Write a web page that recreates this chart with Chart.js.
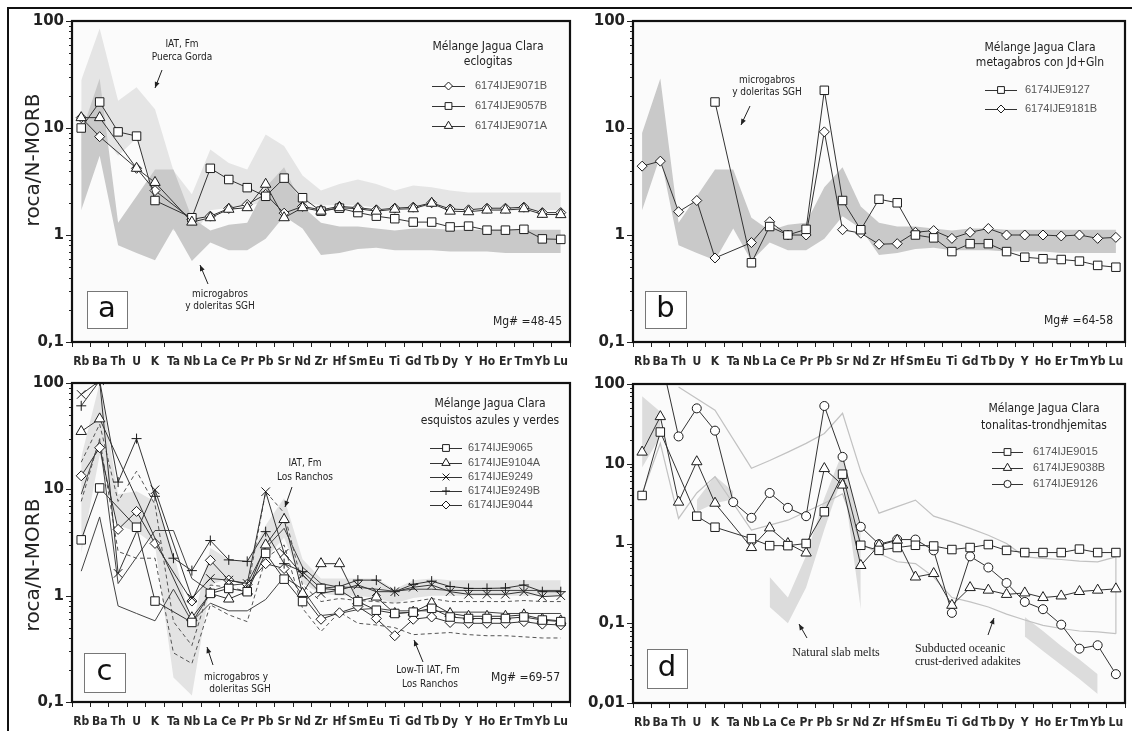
<!DOCTYPE html>
<html lang="es"><head><meta charset="utf-8"><title>Diagramas multielementales normalizados a N-MORB</title>
<script src="https://cdn.jsdelivr.net/npm/chart.js@4.4.1/dist/chart.umd.min.js"></script>
<style>
html,body{margin:0;padding:0;background:#fff}
body{position:relative;width:1132px;height:731px;overflow:hidden}
canvas{position:absolute;display:block}
.fr{position:absolute;background:#111}
</style></head><body>
<canvas id="pa" width="577" height="375" style="left:0;top:0"></canvas>
<canvas id="pb" width="555" height="375" style="left:577px;top:0"></canvas>
<canvas id="pc" width="577" height="356" style="left:0;top:375px"></canvas>
<canvas id="pd" width="555" height="356" style="left:577px;top:375px"></canvas>
<div class="fr" style="left:7px;top:7px;width:1125px;height:2px"></div>
<div class="fr" style="left:7px;top:7px;width:2px;height:724px"></div>
<script>
// ---------- categories & tick labels ----------
const CATS = ['Rb','Ba','Th','U','K','Ta','Nb','La','Ce','Pr','Pb','Sr','Nd','Zr','Hf','Sm','Eu','Ti','Gd','Tb','Dy','Y','Ho','Er','Tm','Yb','Lu'];
const DECADE_LABELS = {'-2':'0,01','-1':'0,1','0':'1','1':'10','2':'100'};
const Y_TITLE = 'roca/N-MORB';

// ---------- panel a: eclogitas ----------
const a_9071B = [12.5, 8.3, null, 4.2, 2.6, null, 1.4, 1.5, 1.77, 1.93, 2.4, 1.6, 1.85, 1.72, 1.85, 1.8, 1.72, 1.78, 1.82, 2.0, 1.75, 1.72, 1.78, 1.78, 1.82, 1.62, 1.62];
const a_9057B = [10, 17.5, 9.2, 8.4, 2.1, null, 1.45, 4.2, 3.3, 2.77, 2.3, 3.4, 2.23, 1.67, 1.78, 1.62, 1.5, 1.42, 1.32, 1.32, 1.19, 1.21, 1.11, 1.11, 1.13, 0.92, 0.91];
const a_9071A = [12.5, 12.5, null, 4.2, 3.1, null, 1.32, 1.45, 1.74, 1.8, 2.98, 1.45, 1.8, 1.67, 1.8, 1.76, 1.67, 1.74, 1.76, 1.98, 1.67, 1.65, 1.71, 1.71, 1.76, 1.56, 1.55];
const iatPG_hi = [28, 85, 18, 24, 15, 4.0, 2.4, 6.3, 4.7, 4.1, 8.7, 6.8, 3.6, 2.6, 3.0, 3.3, 3.0, 2.6, 2.9, 2.8, 2.6, 2.5, 2.5, 2.5, 2.5, 2.5, 2.5];
const iatPG_lo = [4.0, 9.0, 5.5, 8.0, 2.5, 1.1, 0.95, 1.7, 1.8, 1.9, 2.0, 1.7, 2.0, 1.9, 1.9, 1.9, 1.8, 1.8, 1.8, 1.85, 1.75, 1.75, 1.7, 1.7, 1.7, 1.7, 1.7];
// microgabros y doleritas SGH (panels a, b, c)
const sgh_hi = [9, 29, 1.3, 2.3, 4.1, 4.1, 1.45, 1.1, 1.25, 1.3, 2.8, 4.3, 1.85, 1.3, 1.2, 1.2, 1.15, 1.1, 1.15, 1.15, 1.12, 1.12, 1.12, 1.12, 1.12, 1.12, 1.12];
const sgh_lo = [1.7, 5.5, 0.8, 0.68, 0.58, 1.15, 0.57, 0.85, 0.72, 0.72, 0.92, 1.5, 1.15, 0.65, 0.68, 0.74, 0.76, 0.72, 0.72, 0.72, 0.7, 0.7, 0.7, 0.68, 0.68, 0.68, 0.68];

// ---------- panel b: metagabros con Jd+Gln ----------
const b_9127  = [null, null, null, null, 17.5, null, 0.55, 1.2, 1.0, 1.13, 22.5, 2.1, 1.12, 2.16, 2.0, 1.0, 0.94, 0.70, 0.83, 0.83, 0.70, 0.62, 0.60, 0.59, 0.57, 0.52, 0.50];
const b_9181B = [4.4, 4.9, 1.65, 2.1, 0.61, null, 0.85, 1.33, 1.0, 1.0, 9.2, 1.12, 1.04, 0.82, 0.83, 1.06, 1.1, 0.93, 1.06, 1.15, 1.0, 1.0, 1.0, 0.98, 1.0, 0.93, 0.95];

// ---------- panel c: esquistos azules y verdes ----------
const c_9065  = [3.35, 10.3, null, 4.4, 0.89, null, 0.56, 1.05, 1.17, 1.09, 2.5, 1.43, 0.88, 1.17, 1.13, 0.88, 0.73, 0.68, 0.70, 0.76, 0.63, 0.61, 0.61, 0.61, 0.63, 0.59, 0.57];
const c_9104A = [35, 46, null, null, null, null, 0.62, 1.05, 0.93, 1.1, 3.0, 5.2, 1.05, 2.0, 2.0, 0.89, 0.97, 0.68, 0.7, 0.85, 0.68, 0.64, 0.64, 0.64, 0.66, 0.6, 0.58];
const c_9249  = [78, 105, 1.62, null, 9.9, null, 0.95, 1.45, 1.4, 1.3, 9.5, 2.5, 1.57, 1.05, 1.13, 1.26, 1.09, 1.09, 1.2, 1.26, 1.09, 1.03, 1.03, 1.03, 1.09, 0.98, 1.0];
const c_9249B = [61, 105, 11.7, 30, 8.6, 2.25, 1.72, 3.3, 2.17, 2.1, 4.0, 2.0, 1.68, 1.17, 1.22, 1.4, 1.4, 1.09, 1.28, 1.37, 1.22, 1.17, 1.17, 1.18, 1.26, 1.09, 1.09];
const c_9044  = [13.4, 24.6, 4.2, 6.2, 3.1, null, 0.89, 2.15, 1.4, 1.28, 2.0, 1.8, 1.0, 0.6, 0.69, 0.79, 0.61, 0.42, 0.6, 0.63, 0.56, 0.55, 0.55, 0.55, 0.57, 0.54, 0.53];
const lowTi_hi = [18, 41, 7.7, 14.8, 7.2, 0.57, 0.34, 1.26, 1.2, 1.1, 9.5, 6.0, 1.26, 0.88, 0.94, 0.9, 0.88, 0.85, 0.88, 0.94, 0.88, 0.88, 0.88, 0.88, 0.9, 0.88, 0.88];
const lowTi_lo = [7.7, 30, 2.6, 2.25, 2.25, 0.29, 0.23, 0.82, 0.66, 0.57, 2.25, 3.0, 0.76, 0.46, 0.7, 0.55, 0.53, 0.5, 0.43, 0.44, 0.45, 0.43, 0.42, 0.42, 0.41, 0.4, 0.4];
const iatLR_hi = [20, 100, 9, 9.6, 7.7, 2.6, 0.5, 2.8, 2.2, 2.1, 4.6, 8.3, 2.2, 1.45, 1.45, 1.45, 1.45, 1.15, 1.4, 1.45, 1.4, 1.4, 1.4, 1.4, 1.4, 1.4, 1.4];
const iatLR_lo = [2.5, 21, 4.6, 4.0, 3.0, 0.17, 0.115, 1.26, 1.46, 1.26, 2.25, 3.5, 1.3, 1.05, 1.0, 1.0, 0.95, 0.85, 0.95, 1.0, 1.0, 1.0, 1.0, 1.0, 1.0, 1.0, 1.0];

// ---------- panel d: tonalitas-trondhjemitas ----------
const d_9015  = [4.0, 25, null, 2.2, 1.6, null, 1.15, 0.94, 0.94, 1.0, 2.5, 7.4, 0.95, 0.82, 0.89, 0.95, 0.93, 0.84, 0.89, 0.97, 0.82, 0.77, 0.77, 0.77, 0.85, 0.77, 0.77];
const d_9038B = [14, 39, 3.3, 10.6, 3.2, null, 0.89, 1.57, 1.0, 0.76, 8.7, 5.4, 0.53, 0.95, 1.1, 0.38, 0.42, 0.168, 0.28, 0.26, 0.23, 0.24, 0.21, 0.22, 0.25, 0.26, 0.27];
const d_9126  = [null, 230, 22, 49.5, 26, 3.3, 2.1, 4.3, 2.8, 2.2, 53, 12.2, 1.62, 0.98, 1.12, 1.12, 0.82, 0.135, 0.69, 0.5, 0.32, 0.185, 0.15, 0.096, 0.048, 0.053, 0.023];
const adak_hi = [null, null, 92, null, 47, null, 8.8, 11, 14, 18, 24, 43, 8, 2.4, 2.9, 3.5, 2.2, 1.87, 1.55, 1.27, 1.0, 0.68, 0.65, 0.63, 0.6, 0.59, 0.68];
const adak_lo = [4.2, 18, 2.06, 4.3, 6.9, null, 1.47, 1.7, 1.96, 2.5, 3.2, 4.2, 1.0, 0.75, 0.59, 0.56, 0.38, 0.21, 0.185, 0.16, 0.13, 0.11, 0.094, 0.086, 0.08, 0.078, 0.074];
const adak_closeLu = [{x:'Lu', y:0.074}, {x:'Lu', y:0.68}];
const slab_hi = [70, 45, null, 3.5, 7.0, 4.5, null, 0.38, 0.21, 0.7, 3.7, 14, 1.4, null, null, null, null, null, null, null, null, 0.12, 0.08, 0.052, 0.035, 0.023, null];
const slab_lo = [9, 22, null, 2.5, 3.2, 3.6, null, 0.16, 0.1, 0.28, 1.5, 7, 0.15, null, null, null, null, null, null, null, null, 0.068, 0.045, 0.03, 0.02, 0.013, null];

// ---------- styling helpers ----------
const FC = '"DejaVu Sans Condensed","DejaVu Sans",sans-serif';
const F_ANN = '10px ' + FC;
const F_MG = '12px ' + FC;
const F_LEGT = '12px ' + FC;
const F_LEGE = '11px "Liberation Sans",Arial,sans-serif';
const F_SERIF = '12px "Liberation Serif","Times New Roman",serif';
const F_YT = '20px "DejaVu Sans",sans-serif';
const F_LET = '29px "DejaVu Sans",sans-serif';

function sample(label, data, style, r, order, breaks) {
  const br = breaks || [];
  return {
    label, data, order, pointStyle: style, pointRadius: r, pointHoverRadius: r,
    borderColor: '#333', borderWidth: 1, pointBackgroundColor: '#fff',
    pointBorderColor: '#1c1c1c', pointBorderWidth: 1, fill: false, spanGaps: true, tension: 0,
    inKey: true,
    segment: { borderColor: c => br.some(b => b[0] === c.p0DataIndex && b[1] === c.p1DataIndex) ? 'rgba(0,0,0,0)' : undefined }
  };
}
function band(label, hi, lo, color, order) {
  return [
    { label: label + ' (sup)', data: hi, order, fill: '+1', backgroundColor: color, borderColor: 'rgba(0,0,0,0)', borderWidth: 0, pointRadius: 0, spanGaps: false, tension: 0 },
    { label: label + ' (inf)', data: lo, order, fill: false, borderColor: 'rgba(0,0,0,0)', borderWidth: 0, pointRadius: 0, spanGaps: false, tension: 0 }
  ];
}
function plain(label, data, color, width, order, dash) {
  return { label, data, order, borderColor: color, borderWidth: width, borderDash: dash || [], pointRadius: 0, fill: false, spanGaps: true, tension: 0 };
}

function drawMarker(ctx, style, x, y, r) {
  ctx.beginPath();
  if (style === 'rect') { const s = Math.SQRT1_2 * r; ctx.rect(x - s, y - s, 2 * s, 2 * s); }
  else if (style === 'rectRot') { ctx.moveTo(x - r, y); ctx.lineTo(x, y - r); ctx.lineTo(x + r, y); ctx.lineTo(x, y + r); ctx.closePath(); }
  else if (style === 'triangle') { const s = Math.sin(2 * Math.PI / 3) * r; ctx.moveTo(x, y - r); ctx.lineTo(x + s, y + r / 2); ctx.lineTo(x - s, y + r / 2); ctx.closePath(); }
  else if (style === 'circle') { ctx.arc(x, y, r, 0, Math.PI * 2); }
  else if (style === 'crossRot') { const s = Math.SQRT1_2 * r; ctx.moveTo(x - s, y - s); ctx.lineTo(x + s, y + s); ctx.moveTo(x + s, y - s); ctx.lineTo(x - s, y + s); }
  else if (style === 'cross') { ctx.moveTo(x - r, y); ctx.lineTo(x + r, y); ctx.moveTo(x, y - r); ctx.lineTo(x, y + r); }
  if (style !== 'crossRot' && style !== 'cross') { ctx.fillStyle = '#fff'; ctx.fill(); }
  ctx.strokeStyle = '#1c1c1c'; ctx.lineWidth = 1; ctx.stroke();
}
function txt(ctx, s, x, y, font, color, align, rot) {
  ctx.save(); ctx.font = font; ctx.fillStyle = color; ctx.textAlign = align || 'center'; ctx.textBaseline = 'middle';
  if (rot) { ctx.translate(x, y); ctx.rotate(-Math.PI / 2); ctx.fillText(s, 0, 0); } else { ctx.fillText(s, x, y); }
  ctx.restore();
}
function arrow(ctx, x1, y1, x2, y2) {
  ctx.save(); ctx.strokeStyle = '#222'; ctx.fillStyle = '#222'; ctx.lineWidth = 1;
  ctx.beginPath(); ctx.moveTo(x1, y1); ctx.lineTo(x2, y2); ctx.stroke();
  const a = Math.atan2(y2 - y1, x2 - x1), L = 6, W = 2.5;
  ctx.beginPath(); ctx.moveTo(x2, y2);
  ctx.lineTo(x2 - L * Math.cos(a) + W * Math.sin(a), y2 - L * Math.sin(a) - W * Math.cos(a));
  ctx.lineTo(x2 - L * Math.cos(a) - W * Math.sin(a), y2 - L * Math.sin(a) + W * Math.cos(a));
  ctx.closePath(); ctx.fill(); ctx.restore();
}

// ---------- annotations (page coordinates) ----------
const DECO = {
  pa: { origin: [0, 0], ytitle: [34, 160],
    texts: [['IAT, Fm', 182, 44], ['Puerca Gorda', 182, 57], ['microgabros', 220, 294], ['y doleritas SGH', 220, 306]],
    arrows: [[162, 70, 155, 88], [208, 284, 200, 265]],
    mg: ['Mg# =48-45', 562, 322], box: [87, 291, 40, 37, 'a'],
    legend: { cx: 488, ty: [47, 62], title: ['Mélange Jagua Clara', 'eclogitas'], lx0: 432, lx1: 465, tx: 475, ys: [86, 106, 126] } },
  pb: { origin: [577, 0],
    texts: [['microgabros', 767, 80], ['y doleritas SGH', 767, 92]],
    arrows: [[750, 106, 741, 125]],
    mg: ['Mg# =64-58', 1113, 321], box: [645, 291, 41, 37, 'b'],
    legend: { cx: 1040, ty: [48, 63], title: ['Mélange Jagua Clara', 'metagabros con Jd+Gln'], lx0: 985, lx1: 1017, tx: 1025, ys: [90, 109] } },
  pc: { origin: [0, 375], ytitle: [34, 565],
    texts: [['IAT, Fm', 305, 463], ['Los Ranchos', 305, 477], ['Low-Ti IAT, Fm', 428, 670], ['Los Ranchos', 430, 684], ['microgabros y', 236, 677], ['doleritas SGH', 240, 689]],
    arrows: [[292, 487, 285, 507], [423, 662, 414, 640], [213, 665, 207, 647]],
    mg: ['Mg# =69-57', 560, 678], box: [84, 653, 41, 39, 'c'],
    legend: { cx: 490, ty: [404, 421], title: ['Mélange Jagua Clara', 'esquistos azules y verdes'], lx0: 430, lx1: 462, tx: 468, ys: [448, 463, 477, 491, 505] } },
  pd: { origin: [577, 375],
    texts: [], serif: [['Natural slab melts', 836, 653, 'center'], ['Subducted oceanic', 915, 649, 'left'], ['crust-derived adakites', 915, 662, 'left']],
    arrows: [[807, 638, 799, 624], [988, 635, 994, 618]],
    box: [647, 649, 40, 39, 'd'],
    legend: { cx: 1044, ty: [409, 426], title: ['Mélange Jagua Clara', 'tonalitas-trondhjemitas'], lx0: 992, lx1: 1023, tx: 1033, ys: [452, 468, 484] } }
};

const decoPlugin = {
  id: 'panelDeco',
  beforeDraw(chart) {
    const a = chart.chartArea, ctx = chart.ctx;
    ctx.save(); ctx.fillStyle = '#fbfbfb'; ctx.fillRect(a.left, a.top, a.right - a.left, a.bottom - a.top); ctx.restore();
  },
  afterDraw(chart) {
    const d = DECO[chart.canvas.id]; if (!d) return;
    const ctx = chart.ctx, a = chart.chartArea, ys = chart.scales.y;
    const ox = d.origin[0], oy = d.origin[1];
    // y-axis tick marks (major + minor), positioned by the scale
    ctx.save(); ctx.strokeStyle = '#222'; ctx.lineWidth = 1;
    const e0 = Math.round(Math.log10(ys.min));
    for (let e = e0; e <= 2; e++) {
      for (let k = 1; k <= 9; k++) {
        const v = k * Math.pow(10, e); if (v > 100 * 1.0001) break;
        const py = Math.round(ys.getPixelForValue(v)) + 0.5, len = k === 1 ? 6 : 3;
        ctx.beginPath(); ctx.moveTo(a.left - len, py); ctx.lineTo(a.left, py); ctx.stroke();
      }
    }
    ctx.restore();
    // plot frame
    ctx.save(); ctx.strokeStyle = '#111'; ctx.lineWidth = 2.2;
    ctx.strokeRect(a.left, a.top, a.right - a.left, a.bottom - a.top); ctx.restore();
    if (d.ytitle) txt(ctx, Y_TITLE, d.ytitle[0] - ox, d.ytitle[1] - oy, F_YT, '#222', 'center', true);
    (d.texts || []).forEach(t => txt(ctx, t[0], t[1] - ox, t[2] - oy, F_ANN, '#222', 'center'));
    (d.serif || []).forEach(t => txt(ctx, t[0], t[1] - ox, t[2] - oy, F_SERIF, '#222', t[3]));
    (d.arrows || []).forEach(r => arrow(ctx, r[0] - ox, r[1] - oy, r[2] - ox, r[3] - oy));
    if (d.mg) txt(ctx, d.mg[0], d.mg[1] - ox, d.mg[2] - oy, F_MG, '#222', 'right');
    if (d.box) {
      const [bx, by, bw, bh, L] = d.box;
      ctx.save(); ctx.fillStyle = '#fff'; ctx.fillRect(bx - ox, by - oy, bw, bh);
      ctx.strokeStyle = '#777'; ctx.lineWidth = 1; ctx.strokeRect(bx - ox + 0.5, by - oy + 0.5, bw, bh); ctx.restore();
      txt(ctx, L, bx - ox + bw / 2, by - oy + bh / 2, F_LET, '#111', 'center');
    }
    const lg = d.legend;
    if (lg) {
      lg.title.forEach((t, i) => txt(ctx, t, lg.cx - ox, lg.ty[i] - oy, F_LEGT, '#222', 'center'));
      const ents = chart.data.datasets.filter(ds => ds.inKey);
      ents.forEach((ds, i) => {
        const y = lg.ys[i] - oy;
        ctx.save(); ctx.strokeStyle = '#333'; ctx.lineWidth = 1;
        ctx.beginPath(); ctx.moveTo(lg.lx0 - ox, y + 0.5); ctx.lineTo(lg.lx1 - ox, y + 0.5); ctx.stroke();
        drawMarker(ctx, ds.pointStyle, (lg.lx0 + lg.lx1) / 2 - ox, y, ds.pointRadius * 0.8);
        ctx.restore();
        txt(ctx, ds.label, lg.tx - ox, y, F_LEGE, '#555', 'left');
      });
    }
  }
};

function options(cfg) {
  return {
    responsive: false, animation: false, events: [],
    layout: { padding: { top: cfg.padTop, right: cfg.padRight, left: 0, bottom: 0 } },
    plugins: { legend: { display: false }, tooltip: { enabled: false } },
    scales: {
      x: { type: 'category', labels: CATS, offset: true,
        grid: { offset: true, drawOnChartArea: false, drawTicks: true, tickLength: 5, color: '#222', tickColor: '#222', tickWidth: 1 },
        border: { display: false },
        ticks: { autoSkip: false, maxRotation: 0, minRotation: 0, padding: 8, color: '#2a2a2a', font: { family: FC, size: 12, weight: 'bold' } },
        afterFit: s => { s.height = cfg.xH; s.paddingLeft = 0; s.paddingRight = 0; } },
      y: { type: 'logarithmic', min: cfg.ymin, max: 100,
        grid: { drawOnChartArea: false, drawTicks: false },
        border: { display: false },
        ticks: { autoSkip: false, padding: 8, color: '#222', font: { family: '"DejaVu Sans",sans-serif', size: 15, weight: 'bold' },
          callback: v => { const l = Math.log10(v), r = Math.round(l); return Math.abs(l - r) < 1e-6 ? DECADE_LABELS[String(r)] : ''; } },
        afterFit: s => { s.width = cfg.yW; s.paddingTop = 0; s.paddingBottom = 0; } }
    }
  };
}

Chart.register(decoPlugin);

new Chart(document.getElementById('pa'), {
  type: 'line',
  data: { labels: CATS, datasets: [
    sample('6174IJE9071B', a_9071B, 'rectRot', 5, 3, [[1, 3]]),
    sample('6174IJE9057B', a_9057B, 'rect', 6, 2),
    sample('6174IJE9071A', a_9071A, 'triangle', 6, 1, [[1, 3]]),
    ...band('microgabros y doleritas SGH', sgh_hi, sgh_lo, '#c9c9c9', 10),
    ...band('IAT, Fm Puerca Gorda', iatPG_hi, iatPG_lo, '#e5e5e5', 20)
  ] },
  options: options({ ymin: 0.1, yW: 72, xH: 33, padTop: 21, padRight: 2 })
});

new Chart(document.getElementById('pb'), {
  type: 'line',
  data: { labels: CATS, datasets: [
    sample('6174IJE9127', b_9127, 'rect', 6, 1),
    sample('6174IJE9181B', b_9181B, 'rectRot', 5, 2),
    ...band('microgabros y doleritas SGH', sgh_hi, sgh_lo, '#c9c9c9', 10)
  ] },
  options: options({ ymin: 0.1, yW: 56, xH: 33, padTop: 21, padRight: 5 })
});

new Chart(document.getElementById('pc'), {
  type: 'line',
  data: { labels: CATS, datasets: [
    sample('6174IJE9065', c_9065, 'rect', 6, 1),
    sample('6174IJE9104A', c_9104A, 'triangle', 6, 2),
    sample('6174IJE9249', c_9249, 'crossRot', 6, 3),
    sample('6174IJE9249B', c_9249B, 'cross', 5, 4),
    sample('6174IJE9044', c_9044, 'rectRot', 5, 5),
    plain('Low-Ti IAT sup', lowTi_hi, '#555', 1, 6, [4, 3]),
    plain('Low-Ti IAT inf', lowTi_lo, '#555', 1, 6, [4, 3]),
    plain('SGH sup', sgh_hi, '#444', 1, 7),
    plain('SGH inf', sgh_lo, '#444', 1, 7),
    ...band('IAT, Fm Los Ranchos', iatLR_hi, iatLR_lo, '#e3e3e3', 20)
  ] },
  options: options({ ymin: 0.1, yW: 72, xH: 29, padTop: 8, padRight: 2 })
});

new Chart(document.getElementById('pd'), {
  type: 'line',
  data: { labels: CATS, datasets: [
    sample('6174IJE9015', d_9015, 'rect', 6, 1, [[1, 3]]),
    sample('6174IJE9038B', d_9038B, 'triangle', 6, 2),
    sample('6174IJE9126', d_9126, 'circle', 4.5, 3),
    plain('adakitas sup', adak_hi, '#c2c2c2', 1.2, 8),
    plain('adakitas inf', adak_lo, '#c2c2c2', 1.2, 8),
    plain('adakitas Lu', adak_closeLu, '#c2c2c2', 1.2, 8),
    ...band('Natural slab melts', slab_hi, slab_lo, '#dcdcdc', 20)
  ] },
  options: options({ ymin: 0.01, yW: 56, xH: 28, padTop: 9, padRight: 5 })
});
</script>
</body></html>
